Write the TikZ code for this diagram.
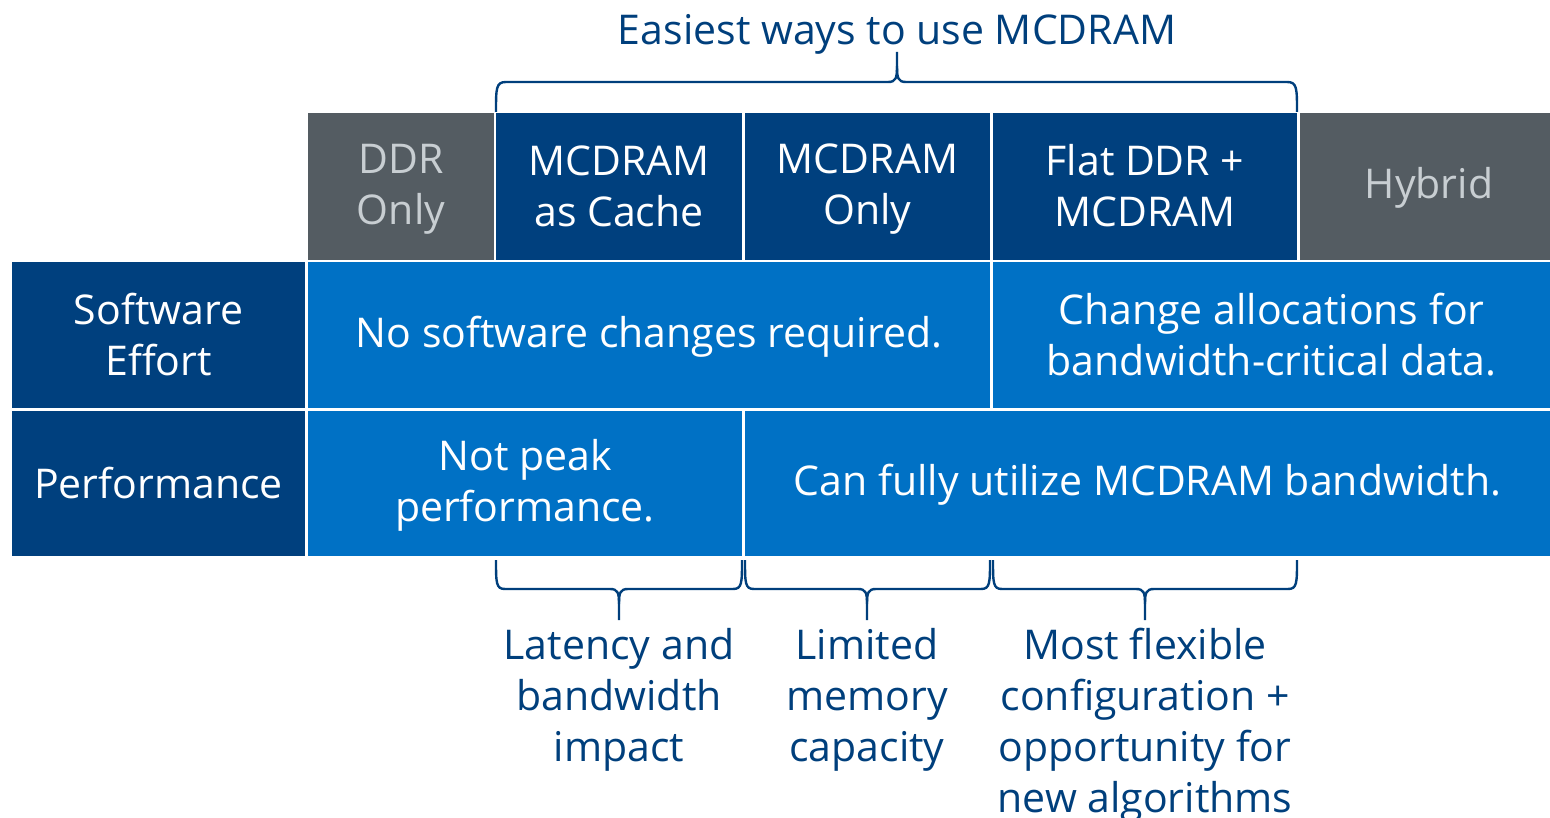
\documentclass[tikz,border=0pt]{standalone}
\usepackage{fontspec}
\setmainfont{Open Sans}
\definecolor{dkblue}{HTML}{00407E}
\definecolor{mdblue}{HTML}{0071C5}
\definecolor{gry}{HTML}{545C62}
\definecolor{lgry}{HTML}{C8CED2}
\definecolor{txtblue}{HTML}{003F7C}
\newcommand\st{\rule[-5pt]{0pt}{39pt}}
\begin{document}
\begin{tikzpicture}[x=1pt,y=-1pt,
  txt/.style={font=\fontsize{41}{51}\selectfont},
  cell/.style={txt, inner sep=0pt, align=center, text=white, minimum height=146pt},
  head/.style={cell, fill=dkblue, minimum height=147pt},
  ghead/.style={cell, fill=gry, text=lgry, minimum height=147pt},
  lab/.style={cell, fill=dkblue},
  val/.style={cell, fill=mdblue},
  note/.style={txt, inner sep=0pt, align=center, text=txtblue, anchor=north},
  brc/.style={draw=txtblue, line width=2.4pt, line join=round}]
\useasboundingbox (0,0) rectangle (1550,818);
% header row
\node[ghead, minimum width=186pt] (ddr) at (401,186.5) {\st DDR\\\st Only};
\node[head, minimum width=246pt] (cache) at (619,186.5) {\st MCDRAM\\\st as Cache};
\node[head, minimum width=245pt] (monly) at (867.5,186.5) {\st MCDRAM\\\st Only};
\node[head, minimum width=304pt] (flat) at (1145,186.5) {\st Flat DDR +\\\st MCDRAM};
\node[ghead, minimum width=250pt] (hyb) at (1425,186.5) {\st\hspace{8pt}Hybrid};
% row 2
\node[lab, minimum width=293pt] (sw) at (158.5,335) {\st Software\\\st Effort};
\node[val, minimum width=682pt] (nochg) at (649,335) {\st No software changes required.};
\node[val, minimum width=557pt] (chg) at (1271.5,335) {\st Change allocations for\\\st bandwidth-critical data.};
% row 3
\node[lab, minimum width=293pt, minimum height=145pt] (perf) at (158.5,483.5) {\st Performance};
\node[val, minimum width=434pt, minimum height=145pt] (notpeak) at (525,483.5) {\st Not peak\\\st performance.};
\node[val, minimum width=805pt, minimum height=145pt] (full) at (1147.5,483.5) {\st Can fully utilize MCDRAM bandwidth.};
% title
\node[txt, text=txtblue, anchor=base, inner sep=0pt] (title) at (897,45) {Easiest ways to use MCDRAM};
% top brace
\draw[brc] (496,112) .. controls (496,88) and (496,82) .. (506,82) -- (888,82)
  .. controls (896,82) and (897,78) .. (897,66) -- (897,52);
\draw[brc] (897,66) .. controls (897,78) and (898,82) .. (906,82) -- (1287,82)
  .. controls (1297,82) and (1297,88) .. (1297,112);
% bottom braces
\foreach \L/\M/\R in {496/619/742, 745/867/990, 993/1145/1297}{
  \draw[brc] (\L,560) .. controls (\L,583) and (\L,589) .. (\L+9,589) -- (\M-9,589)
    .. controls (\M-1,589) and (\M,593) .. (\M,604) -- (\M,620);
  \draw[brc] (\M,604) .. controls (\M,593) and (\M+1,589) .. (\M+9,589) -- (\R-9,589)
    .. controls (\R,589) and (\R,583) .. (\R,560);
}
% notes
\node[note] (n1) at (619,628) {Latency and\\bandwidth\\impact};
\node[note] (n2) at (867,628) {Limited\\memory\\capacity};
\node[note] (n3) at (1145,628) {Most flexible\\configuration +\\opportunity for\\new algorithms};
\end{tikzpicture}
\end{document}
